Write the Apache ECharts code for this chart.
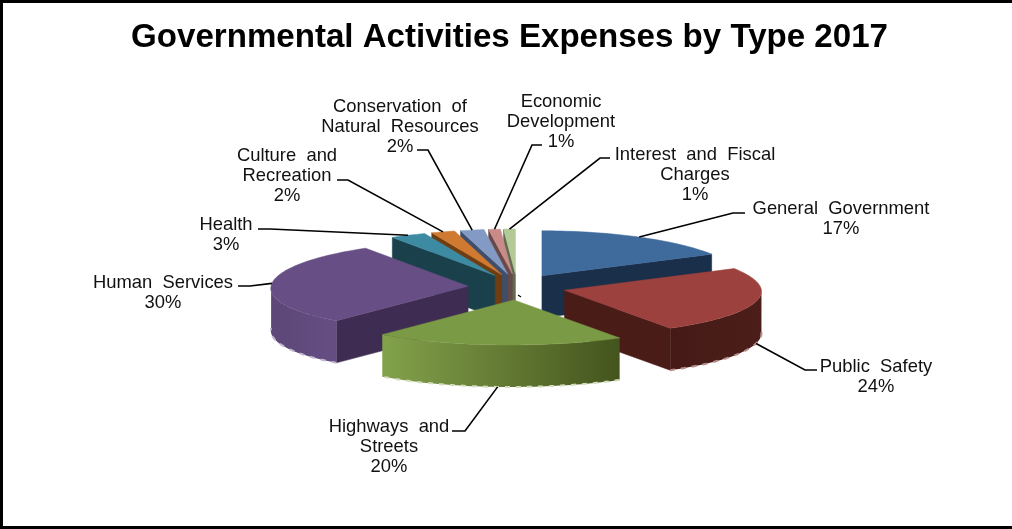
<!DOCTYPE html>
<html>
<head>
<meta charset="utf-8">
<title>Governmental Activities Expenses by Type 2017</title>
<style>html,body{margin:0;padding:0;background:#fff}#chart{width:1012px;height:529px}</style>
<script src="https://cdn.jsdelivr.net/npm/echarts@6/dist/echarts.min.js"></script>
</head>
<body>
<div id="chart"></div>
<script>
// Expense share per activity, in percent, clockwise from twelve o'clock.
const categories = ['General  Government', 'Public  Safety', 'Highways  and\nStreets', 'Human  Services', 'Health',
  'Culture  and\nRecreation', 'Conservation  of\nNatural  Resources', 'Economic\nDevelopment', 'Interest  and  Fiscal\nCharges'];
const shares = [17, 24, 20, 30, 3, 2, 2, 1, 1];

// Face colours for each slice.
const topColors = ['#3f6b9c', '#9c413e', '#7b9a46', '#674f85', '#3c8ba3', '#cf7a30', '#829ac4', '#c98b88', '#b3c996'];
const wallColors = ['#1a2f4a', '#4a1c18', '#47571f', '#3f2c52', '#1a404c', '#6e3d12', '#3f4e6a', '#674a48', '#5f6b4f'];
const sideLeft = ['#1a2f4a', '#451a16', '#83a24b', '#5c4777', '#1a404c', '#6e3d12', '#3f4e6a', '#674a48', '#5f6b4f'];
const sideRight = ['#1a2f4a', '#4c1e1a', '#44541d', '#664e83', '#1a404c', '#6e3d12', '#3f4e6a', '#674a48', '#5f6b4f'];
const rimColors = ['', '#b98f8c', '#d3ddbd', '#c3b7d3', '', '', '', '', ''];

// Back-to-front paint order of the slices.
const paintRank = [5, 7, 8, 6, 4, 3, 2, 1, 0];

// Tilted pie geometry; perspective widens the near half a little and shear leans that half left.
const pie = { cx: 517, cy: 287, rx: 197, ry: 45, depth: 42, explodeX: 49, explodeY: 13, perspective: 0.035, shear: 3.5 };

// Label box centres and leader-line knees, in slice order.
const labelCentres = [[841, 219], [876, 377], [389, 447], [163, 293], [226, 235], [287, 176], [400, 127], [561, 122], [695, 175]];
const labelKnees = [[[745, 213], [733, 213]], [[817, 370], [805, 370]], [[452, 431], [465, 431]], [[238, 286], [250, 286]],
  [[258, 229], [270, 229]], [[337, 180], [348, 180]], [[417, 150], [428, 150]], [[542, 145], [532, 145]], [[610, 158], [600, 158]]];

const total = shares.reduce((a, b) => a + b, 0);
const rad = d => d * Math.PI / 180;

// Start and end angle of a slice, from the shares before it.
function sliceAngles(i) {
  let before = 0;
  for (let k = 0; k < i; k++) before += shares[k];
  return [before / total * 360, (before + shares[i]) / total * 360];
}
// Slice tip, pushed out along the bisector of the slice.
function sliceApex(i) {
  const [a, b] = sliceAngles(i), m = rad((a + b) / 2);
  return [pie.cx + pie.explodeX * Math.sin(m), pie.cy - pie.explodeY * Math.cos(m)];
}
function rimPoint(apex, deg, drop) {
  const s = Math.sin(rad(deg)), c = Math.cos(rad(deg));
  return [apex[0] + pie.rx * s * (1 - pie.perspective * c) + pie.shear * Math.min(c, 0), apex[1] - pie.ry * c + drop];
}
function arcPoints(apex, from, to, drop) {
  const pts = [];
  const steps = Math.max(2, Math.ceil((to - from) / 1.5));
  for (let s = 0; s <= steps; s++) pts.push(rimPoint(apex, from + (to - from) * s / steps, drop));
  return pts;
}
function radialWall(apex, deg) {
  const p = rimPoint(apex, deg, 0);
  return [apex, p, [p[0], p[1] + pie.depth], [apex[0], apex[1] + pie.depth]];
}

// Draws one slice: radial walls, curved side, then the top face.
function renderSlice(params, api) {
  const i = params.dataIndex;
  const [a, b] = sliceAngles(i);
  const apex = sliceApex(i);
  const base = paintRank[i] * 10;
  const children = [];
  const wallStyle = { fill: wallColors[i], stroke: wallColors[i], lineWidth: 0.5 };
  if (Math.sin(rad(a)) < -0.001) children.push({ type: 'polygon', z2: base, shape: { points: radialWall(apex, a) }, style: wallStyle });
  if (Math.sin(rad(b)) > 0.001) children.push({ type: 'polygon', z2: base, shape: { points: radialWall(apex, b) }, style: wallStyle });
  const from = Math.max(a, 90), to = Math.min(b, 270);
  if (to > from) {
    const bottom = arcPoints(apex, from, to, pie.depth);
    const side = arcPoints(apex, from, to, 0).concat(bottom.slice().reverse());
    children.push({
      type: 'polygon', z2: base + 1, shape: { points: side },
      style: { fill: { type: 'linear', x: 1, y: 0, x2: 0, y2: 0, colorStops: [{ offset: 0, color: sideRight[i] }, { offset: 1, color: sideLeft[i] }] } }
    });
    if (rimColors[i]) {
      children.push({
        type: 'polyline', z2: base + 2, shape: { points: bottom },
        style: { fill: null, stroke: rimColors[i], lineWidth: 2, lineDash: [5, 6] }
      });
    }
  }
  const topFace = [apex].concat(arcPoints(apex, a, b, 0));
  children.push({ type: 'polygon', z2: base + 3, shape: { points: topFace }, style: { fill: topColors[i], stroke: topColors[i], lineWidth: 0.5 } });
  return { type: 'group', children };
}

// Where the leader line touches a slice: mid-arc, on the lower rim for front slices.
function leaderEnd(i) {
  const [a, b] = sliceAngles(i), m = (a + b) / 2;
  const front = m > 90 && m < 270;
  return rimPoint(sliceApex(i), m, front ? pie.depth : 0);
}

function renderLabel(params, api) {
  const i = params.dataIndex;
  const value = api.value(0);
  const c = labelCentres[i];
  const knee = labelKnees[i];
  return {
    type: 'group',
    children: [
      {
        type: 'polyline', z2: 100, shape: { points: [knee[0], knee[1], leaderEnd(i)] },
        style: { fill: null, stroke: '#000', lineWidth: 1.6 }
      },
      {
        type: 'text', z2: 101, x: c[0], y: c[1],
        style: {
          text: categories[i] + '\n' + value + '%', align: 'center', verticalAlign: 'middle',
          font: '18.4px "Liberation Sans", Arial, sans-serif', lineHeight: 20, fill: '#111'
        }
      }
    ]
  };
}

const chart = echarts.init(document.getElementById('chart'), null, { renderer: 'canvas' });
chart.setOption({
  animation: false,
  backgroundColor: '#fff',
  title: {
    text: 'Governmental Activities Expenses by Type 2017',
    left: 504.5, top: 16, textAlign: 'center',
    textStyle: { fontFamily: '"Liberation Sans", Arial, sans-serif', fontWeight: 'bold', fontSize: 33.1, color: '#000' }
  },
  graphic: [
    { type: 'rect', shape: { x: 0, y: 0, width: 1012, height: 3 }, style: { fill: '#000' } },
    { type: 'rect', shape: { x: 0, y: 0, width: 3, height: 529 }, style: { fill: '#000' } },
    { type: 'rect', shape: { x: 0, y: 526, width: 1012, height: 3 }, style: { fill: '#000' } },
    { type: 'line', shape: { x1: 518, y1: 295, x2: 521, y2: 297 }, style: { stroke: '#000', lineWidth: 1.2 } }
  ],
  series: [
    { type: 'custom', coordinateSystem: 'none', renderItem: renderSlice, data: shares.map(v => [v]), silent: true },
    { type: 'custom', coordinateSystem: 'none', renderItem: renderLabel, data: shares.map(v => [v]), silent: true }
  ]
});
</script>
</body>
</html>
